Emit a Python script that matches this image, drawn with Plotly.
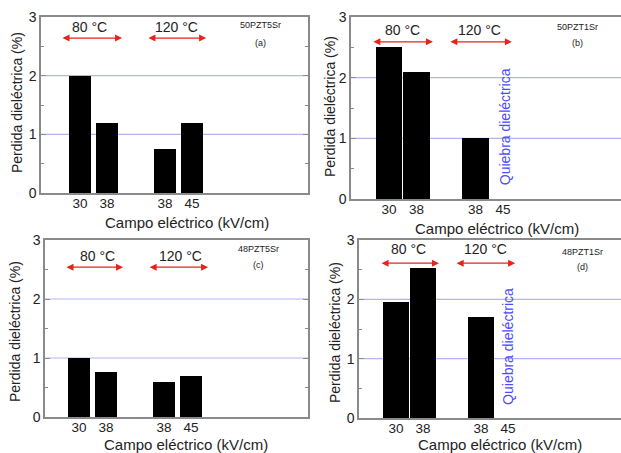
import plotly.graph_objects as go

# ---- data ----
tick_labels = ["30", "38", "38", "45"]
temps = ["80 °C", "120 °C"]
samples = ["50PZT5Sr", "50PZT1Sr", "48PZT5Sr", "48PZT1Sr"]
panel_tags = ["(a)", "(b)", "(c)", "(d)"]
vals_a = [2.0, 1.2, 0.75, 1.2]
vals_b = [2.5, 2.1, 1.0, None]
vals_c = [1.0, 0.77, 0.6, 0.7]
vals_d = [1.95, 2.52, 1.7, None]
breakdown_text = "Quiebra dieléctrica"
x_title = "Campo eléctrico (kV/cm)"
y_title = "Perdida dieléctrica (%)"

# ---- layout helpers ----
W, H = 621, 453
xpos = [1, 2, 4.15, 5.15]
FONT = "Liberation Sans, Arial, sans-serif"
AXC = "#8a8a8a"
TXT = "#222222"
RED = "#e8231c"
BLUE = "#4b4bff"

def px(x):
    return x / W

def py(y):
    return 1 - y / H

panels = [
    dict(vals=vals_a, dx=(41, 308), dy=(17, 193), xr=(-0.44, 9.44), bw=0.81, mirror=True,
         ay=2.64, arr=[(0.3, 2.56), (3.48, 5.67)], ty=2.83, tx=[1.37, 4.59],
         lx=7.67, ly=2.86, tgy=2.56, q=None,
         ytit=(17, 103), xtit=(187, 222)),
    dict(vals=vals_b, dx=(351, 621), dy=(17, 199), xr=(-0.38, 9.44), bw=0.95, mirror=False,
         ay=2.59, arr=[(0.38, 2.6), (3.18, 5.47)], ty=2.79, tx=[1.5, 4.3],
         lx=7.87, ly=2.83, tgy=2.57, q=(5.2, 1.19),
         ytit=(330, 107), xtit=(497, 228)),
    dict(vals=vals_c, dx=(45, 308), dy=(240, 417), xr=(-0.26, 9.48), bw=0.81, mirror=True,
         ay=2.54, arr=[(0.48, 2.63), (3.56, 5.78)], ty=2.73, tx=[1.67, 4.74],
         lx=7.63, ly=2.85, tgy=2.58, q=None,
         ytit=(15, 332), xtit=(186, 444)),
    dict(vals=vals_d, dx=(359, 621), dy=(240, 418), xr=(-0.37, 9.33), bw=0.96, mirror=False,
         ay=2.61, arr=[(0.41, 2.59), (3.19, 5.41)], ty=2.85, tx=[1.48, 4.33],
         lx=7.89, ly=2.79, tgy=2.55, q=(5.15, 1.2),
         ytit=(335, 332), xtit=(500, 444)),
]

fig = go.Figure()
annotations = []
shapes = []
layout = {}

for i, p in enumerate(panels):
    n = "" if i == 0 else str(i + 1)
    xa, ya = "x" + n, "y" + n
    fig.add_trace(go.Bar(
        x=xpos, y=p["vals"], width=p["bw"], xaxis=xa, yaxis=ya,
        marker=dict(color="black", line=dict(width=0)), showlegend=False,
    ))
    layout["xaxis" + n] = dict(
        domain=[px(p["dx"][0]), px(p["dx"][1])], range=list(p["xr"]), anchor=ya,
        tickmode="array", tickvals=xpos, ticktext=tick_labels, ticks="",
        ticklabelstandoff=-3,
        showgrid=False, zeroline=False, showline=True, linecolor=AXC, linewidth=1.5,
        mirror=True, tickfont=dict(family=FONT, size=13.5, color=TXT), automargin=False,
    )
    layout["yaxis" + n] = dict(
        domain=[py(p["dy"][1]), py(p["dy"][0])], range=[0, 3], anchor=xa,
        tickmode="array", tickvals=[0, 1, 2, 3], ticks="inside", ticklen=5,
        tickcolor=AXC, minor=dict(tickvals=[0.5, 1.5, 2.5], ticks="inside", ticklen=3, tickcolor=AXC),
        showgrid=False, zeroline=False, showline=True, linecolor=AXC, linewidth=1.5,
        mirror="ticks" if p["mirror"] else False,
        tickfont=dict(family=FONT, size=14, color=TXT), automargin=False,
    )
    for g in (1, 2):
        shapes.append(dict(type="line", xref=xa + " domain", yref=ya, x0=0, x1=1, y0=g, y1=g,
                           line=dict(color="#b4b4f4", width=1.2), layer="below"))
    for (x0, x1) in p["arr"]:
        annotations.append(dict(
            x=x1, y=p["ay"], ax=x0, ay=p["ay"], xref=xa, yref=ya, axref=xa, ayref=ya,
            text="", showarrow=True, arrowside="end+start", arrowhead=2, arrowsize=1,
            arrowwidth=1.4, arrowcolor=RED,
        ))
    for t, tx in zip(temps, p["tx"]):
        annotations.append(dict(x=tx, y=p["ty"], xref=xa, yref=ya, text=t, showarrow=False,
                                xanchor="center", yanchor="middle",
                                font=dict(family=FONT, size=14, color=TXT)))
    annotations.append(dict(x=p["lx"], y=p["ly"], xref=xa, yref=ya, text=samples[i],
                            showarrow=False, xanchor="center", yanchor="middle",
                            font=dict(family=FONT, size=9, color=TXT)))
    annotations.append(dict(x=p["lx"], y=p["tgy"], xref=xa, yref=ya, text=panel_tags[i],
                            showarrow=False, xanchor="center", yanchor="middle",
                            font=dict(family=FONT, size=9, color=TXT)))
    if p["q"]:
        annotations.append(dict(x=p["q"][0], y=p["q"][1], xref=xa, yref=ya, text=breakdown_text,
                                textangle=-90, showarrow=False, xanchor="center", yanchor="middle",
                                font=dict(family=FONT, size=14, color=BLUE)))
    annotations.append(dict(x=px(p["ytit"][0]), y=py(p["ytit"][1]), xref="paper", yref="paper",
                            text=y_title, textangle=-90, showarrow=False,
                            xanchor="center", yanchor="middle",
                            font=dict(family=FONT, size=14, color=TXT)))
    annotations.append(dict(x=px(p["xtit"][0]), y=py(p["xtit"][1]), xref="paper", yref="paper",
                            text=x_title, showarrow=False, xanchor="center", yanchor="middle",
                            borderpad=0, font=dict(family=FONT, size=15, color=TXT)))

layout.update(dict(
    width=W, height=H, margin=dict(l=0, r=0, t=0, b=0),
    paper_bgcolor="white", plot_bgcolor="white",
    annotations=annotations, shapes=shapes, bargap=0,
))
fig.update_layout(**layout)
fig.write_html("out.html")
